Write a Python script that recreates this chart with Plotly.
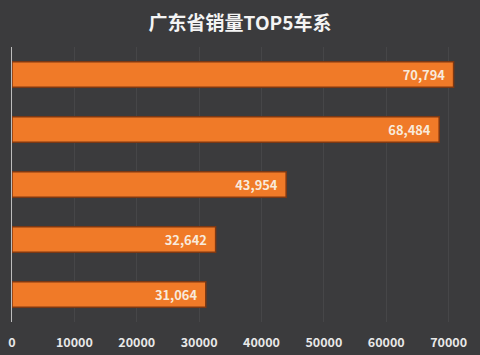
import plotly.graph_objects as go

categories = ["车系1", "车系2", "车系3", "车系4", "车系5"]
sales = [70794, 68484, 43954, 32642, 31064]
tick_vals = [0, 10000, 20000, 30000, 40000, 50000, 60000, 70000]
tick_text = [str(v) for v in tick_vals]
title_text = "广东省销量TOP5车系"

FONT = "Noto Sans CJK SC"

fig = go.Figure(go.Bar(
    y=categories,
    x=sales,
    orientation="h",
    marker=dict(color="#f07a28", line=dict(color="#7e3812", width=1.5)),
    texttemplate="<b>%{x:,}</b>  ",
    textposition="inside",
    insidetextanchor="end",
    textfont=dict(family=FONT, size=16, color="#f8eadc"),
    cliponaxis=False,
))

fig.update_layout(
    width=480, height=355,
    margin=dict(l=12, r=22, t=47, b=33, autoexpand=False),
    paper_bgcolor="#3b3b3d",
    plot_bgcolor="#3b3b3d",
    bargap=0.54,
    showlegend=False,
    title=dict(text="<b>" + title_text + "</b>", x=0.5, xanchor="center", y=0.935, yanchor="middle",
               font=dict(family=FONT, size=19, color="#f4f4f4")),
    xaxis=dict(
        range=[0, 71500],
        tickvals=tick_vals,
        ticktext=["<b>" + t + "</b>" for t in tick_text],
        tickfont=dict(family=FONT, size=12.5, color="#e8e8e8"),
        showgrid=True, gridcolor="rgba(255,255,255,0.06)", gridwidth=1,
        zeroline=False, showline=False,
        ticks="", ticklabelstandoff=11, automargin=False,
    ),
    yaxis=dict(
        autorange="reversed",
        showticklabels=False,
        showgrid=False, zeroline=False,
        showline=True, linecolor="#bdbdbd", linewidth=1,
        ticks="", automargin=False,
    ),
)

fig.write_html("out.html", config={"displayModeBar": False},
               post_script="document.body.style.margin='0';document.body.style.overflow='hidden';")
